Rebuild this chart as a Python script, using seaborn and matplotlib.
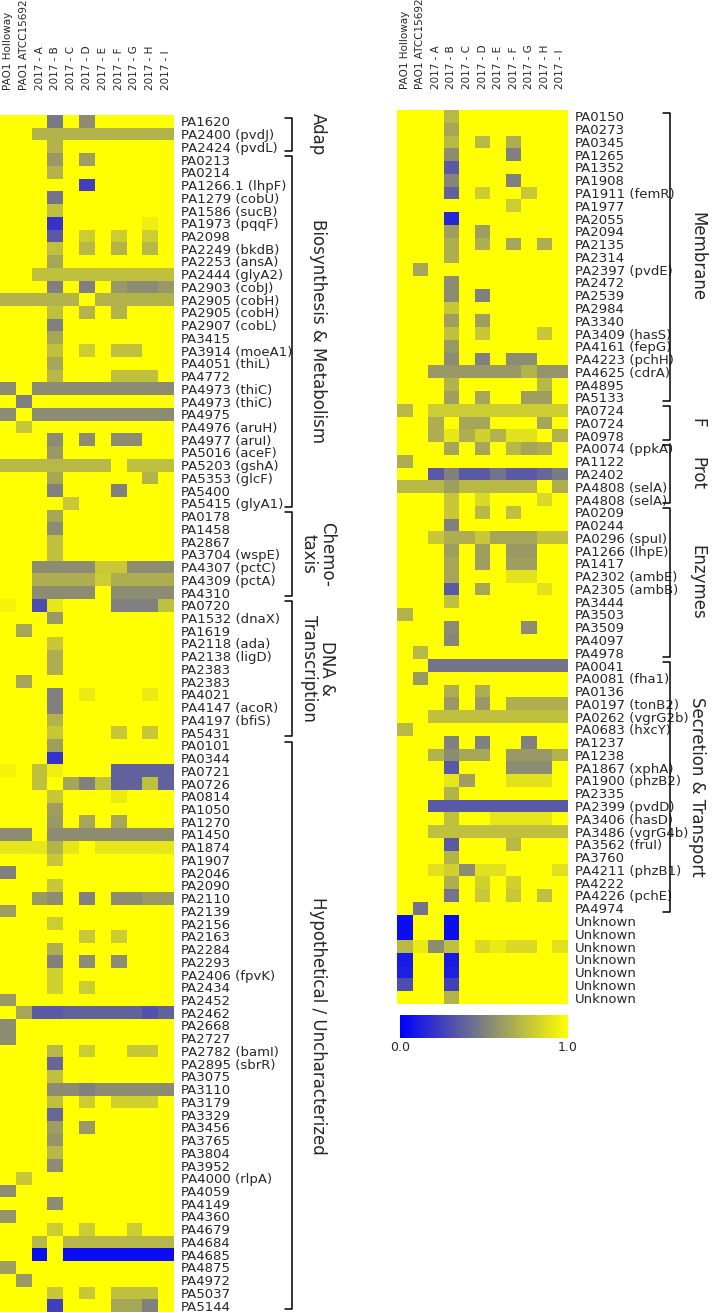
import matplotlib
matplotlib.use("Agg")
import matplotlib.pyplot as plt
import matplotlib.transforms as mtransforms
from matplotlib.colors import LinearSegmentedColormap
import seaborn as sns
import pandas as pd

# column (strain) labels shared by both panels
strains = ["PAO1 Holloway", "PAO1 ATCC15692", "2017 - A", "2017 - B", "2017 - C",
           "2017 - D", "2017 - E", "2017 - F", "2017 - G", "2017 - H", "2017 - I"]

# left panel
left_genes = [
    "PA1620", "PA2400 (pvdJ)", "PA2424 (pvdL)", "PA0213", "PA0214", "PA1266.1 (lhpF)",
    "PA1279 (cobU)", "PA1586 (sucB)", "PA1973 (pqqF)", "PA2098", "PA2249 (bkdB)",
    "PA2253 (ansA)", "PA2444 (glyA2)", "PA2903 (cobJ)", "PA2905 (cobH)", "PA2905 (cobH)",
    "PA2907 (cobL)", "PA3415", "PA3914 (moeA1)", "PA4051 (thiL)", "PA4772",
    "PA4973 (thiC)", "PA4973 (thiC)", "PA4975", "PA4976 (aruH)", "PA4977 (aruI)",
    "PA5016 (aceF)", "PA5203 (gshA)", "PA5353 (glcF)", "PA5400", "PA5415 (glyA1)",
    "PA0178", "PA1458", "PA2867", "PA3704 (wspE)", "PA4307 (pctC)", "PA4309 (pctA)",
    "PA4310", "PA0720", "PA1532 (dnaX)", "PA1619", "PA2118 (ada)", "PA2138 (ligD)",
    "PA2383", "PA2383", "PA4021", "PA4147 (acoR)", "PA4197 (bfiS)", "PA5431",
    "PA0101", "PA0344", "PA0721", "PA0726", "PA0814", "PA1050", "PA1270", "PA1450",
    "PA1874", "PA1907", "PA2046", "PA2090", "PA2110", "PA2139", "PA2156", "PA2163",
    "PA2284", "PA2293", "PA2406 (fpvK)", "PA2434", "PA2452", "PA2462", "PA2668",
    "PA2727", "PA2782 (bamI)", "PA2895 (sbrR)", "PA3075", "PA3110", "PA3179",
    "PA3329", "PA3456", "PA3765", "PA3804", "PA3952", "PA4000 (rlpA)", "PA4059",
    "PA4149", "PA4360", "PA4679", "PA4684", "PA4685", "PA4875", "PA4972", "PA5037",
    "PA5144",
]
left_values = [
    [1, 1, 1, .47, 1, .55, 1, 1, 1, 1, 1],
    [1, 1, .7, .7, .7, .7, .7, .7, .7, .7, .7],
    [1, 1, 1, .7, 1, 1, 1, 1, 1, 1, 1],
    [1, 1, 1, .6, 1, .62, 1, 1, 1, 1, 1],
    [1, 1, 1, .7, 1, 1, 1, 1, 1, 1, 1],
    [1, 1, 1, 1, 1, .25, 1, 1, 1, 1, 1],
    [1, 1, 1, .45, 1, 1, 1, 1, 1, 1, 1],
    [1, 1, 1, .75, 1, 1, 1, 1, 1, 1, 1],
    [1, 1, 1, .2, 1, 1, 1, 1, 1, .93, 1],
    [1, 1, 1, .35, 1, .8, 1, .8, 1, .8, 1],
    [1, 1, 1, .75, 1, .72, 1, .7, 1, .72, 1],
    [1, 1, 1, .65, 1, 1, 1, 1, 1, 1, 1],
    [1, 1, .75, .75, .75, .75, .75, .75, .75, .75, .75],
    [1, 1, 1, .5, 1, .5, 1, .6, .55, .55, .6],
    [.7, .7, .7, .7, .7, 1, .7, .7, .7, .7, .7],
    [1, 1, 1, .75, 1, .7, 1, .7, 1, 1, 1],
    [1, 1, 1, .5, 1, 1, 1, 1, 1, 1, 1],
    [1, 1, 1, .65, 1, 1, 1, 1, 1, 1, 1],
    [1, 1, 1, .75, 1, .8, 1, .75, .75, 1, 1],
    [1, 1, 1, .65, 1, 1, 1, 1, 1, 1, 1],
    [1, 1, 1, .72, 1, 1, 1, .75, .75, .75, 1],
    [.55, 1, .55, .55, .55, .55, .55, .55, .55, .55, .55],
    [1, .5, 1, 1, 1, 1, 1, 1, 1, 1, 1],
    [.55, 1, .55, .55, .55, .55, .55, .55, .55, .55, .55],
    [1, .78, 1, 1, 1, 1, 1, 1, 1, 1, 1],
    [1, 1, 1, .55, 1, .55, 1, .55, .55, 1, 1],
    [1, 1, 1, .6, 1, 1, 1, 1, 1, 1, 1],
    [.72, .72, .72, .72, .72, .72, .72, 1, .75, .75, .75],
    [1, 1, 1, .65, 1, 1, 1, 1, 1, .7, 1],
    [1, 1, 1, .5, 1, 1, 1, .5, 1, 1, 1],
    [1, 1, 1, 1, .78, 1, 1, 1, 1, 1, 1],
    [1, 1, 1, .65, 1, 1, 1, 1, 1, 1, 1],
    [1, 1, 1, .55, 1, 1, 1, 1, 1, 1, 1],
    [1, 1, 1, .75, 1, 1, 1, 1, 1, 1, 1],
    [1, 1, 1, .75, 1, 1, 1, 1, 1, 1, 1],
    [1, 1, .55, .55, .55, .55, .78, .78, .55, .55, .55],
    [1, 1, .68, .68, .68, .68, .8, .68, .68, .68, .68],
    [1, 1, .55, .55, .55, .55, 1, .55, .55, .55, .55],
    [.95, 1, .3, .9, 1, 1, 1, .5, .5, .5, .75],
    [1, 1, 1, .6, 1, 1, 1, 1, 1, 1, 1],
    [1, .65, 1, 1, 1, 1, 1, 1, 1, 1, 1],
    [1, 1, 1, .78, 1, 1, 1, 1, 1, 1, 1],
    [1, 1, 1, .68, 1, 1, 1, 1, 1, 1, 1],
    [1, 1, 1, .68, 1, 1, 1, 1, 1, 1, 1],
    [1, .65, 1, 1, 1, 1, 1, 1, 1, 1, 1],
    [1, 1, 1, .5, 1, .92, 1, 1, 1, .92, 1],
    [1, 1, 1, .5, 1, 1, 1, 1, 1, 1, 1],
    [1, 1, 1, .7, 1, 1, 1, 1, 1, 1, 1],
    [1, 1, 1, .78, 1, 1, 1, .78, 1, .78, 1],
    [1, 1, 1, .62, 1, 1, 1, 1, 1, 1, 1],
    [1, 1, 1, .2, 1, 1, 1, 1, 1, 1, 1],
    [.95, 1, .75, .93, 1, 1, 1, .38, .38, .38, .38],
    [1, 1, .75, 1, .65, .5, .75, .38, .38, .75, .38],
    [1, 1, 1, .78, 1, 1, 1, .92, 1, 1, 1],
    [1, 1, 1, .62, 1, 1, 1, 1, 1, 1, 1],
    [1, 1, 1, .6, 1, .65, 1, .65, 1, 1, 1],
    [.55, .55, 1, .55, .55, .55, .55, .55, .55, .55, .55],
    [.9, .9, .9, .7, .9, 1, .9, .9, .9, .9, .9],
    [1, 1, 1, .78, 1, 1, 1, 1, 1, 1, 1],
    [.5, 1, 1, 1, 1, 1, 1, 1, 1, 1, 1],
    [1, 1, 1, .78, 1, 1, 1, 1, 1, 1, 1],
    [1, 1, .6, .55, 1, .5, 1, .55, .55, .6, .6],
    [.62, 1, 1, 1, 1, 1, 1, 1, 1, 1, 1],
    [1, 1, 1, .8, 1, 1, 1, 1, 1, 1, 1],
    [1, 1, 1, 1, 1, .78, 1, .8, 1, 1, 1],
    [1, 1, 1, .68, 1, 1, 1, 1, 1, 1, 1],
    [1, 1, 1, .5, 1, .55, 1, .55, 1, 1, 1],
    [1, 1, 1, .82, 1, 1, 1, 1, 1, 1, 1],
    [1, 1, 1, .82, 1, .8, 1, 1, 1, 1, 1],
    [.6, 1, 1, 1, 1, 1, 1, 1, 1, 1, 1],
    [1, .65, .35, .35, .38, .38, .38, .38, .38, .32, .38],
    [.55, 1, 1, 1, 1, 1, 1, 1, 1, 1, 1],
    [.55, 1, 1, 1, 1, 1, 1, 1, 1, 1, 1],
    [1, 1, 1, .72, 1, .8, 1, 1, .78, .78, 1],
    [1, 1, 1, .4, 1, 1, 1, 1, 1, 1, 1],
    [1, 1, 1, .75, 1, 1, 1, 1, 1, 1, 1],
    [1, 1, 1, .55, .55, .5, .55, .55, .55, .55, .55],
    [1, 1, 1, .75, 1, .8, 1, .82, .82, .82, 1],
    [1, 1, 1, .4, 1, 1, 1, 1, 1, 1, 1],
    [1, 1, 1, .62, 1, .6, 1, 1, 1, 1, 1],
    [1, 1, 1, .58, 1, 1, 1, 1, 1, 1, 1],
    [1, 1, 1, .72, 1, 1, 1, 1, 1, 1, 1],
    [1, 1, 1, .55, 1, 1, 1, 1, 1, 1, 1],
    [1, .78, 1, 1, 1, 1, 1, 1, 1, 1, 1],
    [.55, 1, 1, 1, 1, 1, 1, 1, 1, 1, 1],
    [1, 1, 1, .55, 1, 1, 1, 1, 1, 1, 1],
    [.58, 1, 1, 1, 1, 1, 1, 1, 1, 1, 1],
    [1, 1, 1, .8, 1, .8, 1, 1, .8, 1, 1],
    [1, 1, .72, 1, .72, .72, .72, .72, .72, .72, .72],
    [1, 1, .05, 1, .05, .05, .05, .05, .05, .05, .05],
    [.62, 1, 1, 1, 1, 1, 1, 1, 1, 1, 1],
    [1, .6, 1, 1, 1, 1, 1, 1, 1, 1, 1],
    [1, 1, 1, .78, 1, .78, 1, .75, .75, .75, 1],
    [1, 1, 1, .25, 1, 1, 1, .65, .65, .5, 1],
]
# (label, first row, last row)
left_groups = [("Adap", 0, 2), ("Biosynthesis & Metabolism", 3, 30),
               ("Chemo-\ntaxis", 31, 37), ("DNA &\nTranscription", 38, 48),
               ("Hypothetical / Uncharacterized", 49, 93)]

# right panel
right_genes = [
    "PA0150", "PA0273", "PA0345", "PA1265", "PA1352", "PA1908", "PA1911 (femR)",
    "PA1977", "PA2055", "PA2094", "PA2135", "PA2314", "PA2397 (pvdE)", "PA2472",
    "PA2539", "PA2984", "PA3340", "PA3409 (hasS)", "PA4161 (fepG)", "PA4223 (pchH)",
    "PA4625 (cdrA)", "PA4895", "PA5133", "PA0724", "PA0724", "PA0978", "PA0074 (ppkA)",
    "PA1122", "PA2402", "PA4808 (selA)", "PA4808 (selA)", "PA0209", "PA0244",
    "PA0296 (spuI)", "PA1266 (lhpE)", "PA1417", "PA2302 (ambE)", "PA2305 (ambB)",
    "PA3444", "PA3503", "PA3509", "PA4097", "PA4978", "PA0041", "PA0081 (fha1)",
    "PA0136", "PA0197 (tonB2)", "PA0262 (vgrG2b)", "PA0683 (hxcY)", "PA1237", "PA1238",
    "PA1867 (xphA)", "PA1900 (phzB2)", "PA2335", "PA2399 (pvdD)", "PA3406 (hasD)",
    "PA3486 (vgrG4b)", "PA3562 (fruI)", "PA3760", "PA4211 (phzB1)", "PA4222",
    "PA4226 (pchE)", "PA4974", "Unknown", "Unknown", "Unknown", "Unknown", "Unknown",
    "Unknown", "Unknown",
]
right_values = [
    [1, 1, 1, .72, 1, 1, 1, 1, 1, 1, 1],
    [1, 1, 1, .65, 1, 1, 1, 1, 1, 1, 1],
    [1, 1, 1, .72, 1, .72, 1, .68, 1, 1, 1],
    [1, 1, 1, .55, 1, 1, 1, .5, 1, 1, 1],
    [1, 1, 1, .35, 1, 1, 1, 1, 1, 1, 1],
    [1, 1, 1, .52, 1, 1, 1, .5, 1, 1, 1],
    [1, 1, 1, .38, 1, .8, 1, 1, .78, 1, 1],
    [1, 1, 1, 1, 1, 1, 1, .8, 1, 1, 1],
    [1, 1, 1, .15, 1, 1, 1, 1, 1, 1, 1],
    [1, 1, 1, .62, 1, .62, 1, 1, 1, 1, 1],
    [1, 1, 1, .68, 1, .68, 1, .65, 1, .68, 1],
    [1, 1, 1, .68, 1, 1, 1, 1, 1, 1, 1],
    [1, .65, 1, 1, 1, 1, 1, 1, 1, 1, 1],
    [1, 1, 1, .55, 1, 1, 1, 1, 1, 1, 1],
    [1, 1, 1, .55, 1, .5, 1, 1, 1, 1, 1],
    [1, 1, 1, .78, 1, 1, 1, 1, 1, 1, 1],
    [1, 1, 1, .62, 1, .62, 1, 1, 1, 1, 1],
    [1, 1, 1, .75, 1, .78, 1, 1, 1, .78, 1],
    [1, 1, 1, .6, 1, 1, 1, 1, 1, 1, 1],
    [1, 1, 1, .55, 1, .5, 1, .55, .55, 1, 1],
    [1, 1, .6, .6, .6, .6, .6, .6, .7, .58, .58],
    [1, 1, 1, .7, 1, 1, 1, 1, 1, .72, 1],
    [1, 1, 1, .62, 1, .65, 1, 1, .62, .62, 1],
    [.72, 1, .8, .8, .8, .8, .8, .8, .8, .8, .8],
    [1, 1, .68, 1, .65, .65, 1, 1, 1, .65, 1],
    [1, 1, .68, .9, .68, .82, .7, .88, .88, 1, .7],
    [1, 1, 1, .65, 1, .65, 1, .72, .65, .68, 1],
    [.68, 1, 1, 1, 1, 1, 1, 1, 1, 1, 1],
    [1, 1, .35, .5, .35, .35, .45, .35, .35, .4, .48],
    [.72, .72, .72, .62, .72, .72, .72, .72, .72, 1, .68],
    [1, 1, 1, .78, 1, .85, 1, 1, 1, .85, 1],
    [1, 1, 1, .78, 1, .72, 1, .75, 1, 1, 1],
    [1, 1, 1, .5, 1, 1, 1, 1, 1, 1, 1],
    [1, 1, .78, .68, .68, .78, .65, .65, .65, .75, .75],
    [1, 1, 1, .62, 1, .62, 1, .6, .6, 1, 1],
    [1, 1, 1, .65, 1, .62, 1, .62, .62, 1, 1],
    [1, 1, 1, .65, 1, 1, 1, .88, .88, 1, 1],
    [1, 1, 1, .35, 1, .65, 1, 1, 1, .88, 1],
    [1, 1, 1, .75, 1, 1, 1, 1, 1, 1, 1],
    [.7, 1, 1, 1, 1, 1, 1, 1, 1, 1, 1],
    [1, 1, 1, .55, 1, 1, 1, 1, .55, 1, 1],
    [1, 1, 1, .52, 1, 1, 1, 1, 1, 1, 1],
    [1, .72, 1, 1, 1, 1, 1, 1, 1, 1, 1],
    [1, 1, .45, .45, .45, .45, .45, .45, .45, .45, .45],
    [1, .6, 1, 1, 1, 1, 1, 1, 1, 1, 1],
    [1, 1, 1, .68, 1, .68, 1, 1, 1, 1, 1],
    [1, 1, 1, .6, 1, .6, 1, .68, .68, .68, .68],
    [1, 1, .75, .75, .75, .75, .75, .75, .75, .75, .75],
    [.72, 1, 1, 1, 1, 1, 1, 1, 1, 1, 1],
    [1, 1, 1, .5, 1, .5, 1, 1, .5, 1, 1],
    [1, 1, .7, .55, .65, .65, 1, .6, .6, .6, .7],
    [1, 1, 1, .35, 1, 1, 1, .55, .55, .55, 1],
    [1, 1, 1, .9, .62, 1, 1, .88, .88, .88, 1],
    [1, 1, 1, .7, 1, 1, 1, 1, 1, 1, 1],
    [1, 1, .35, .35, .35, .35, .35, .35, .35, .35, .35],
    [1, 1, 1, .75, 1, 1, .9, .9, .9, .9, 1],
    [1, 1, .75, .75, .75, .75, .75, .75, .75, .75, .75],
    [1, 1, 1, .35, 1, 1, 1, .72, 1, 1, 1],
    [1, 1, 1, .7, 1, 1, 1, 1, 1, 1, 1],
    [1, 1, .88, .82, .55, .88, .88, 1, 1, 1, .88],
    [1, 1, 1, .68, 1, .82, 1, .82, 1, 1, 1],
    [1, 1, 1, .45, 1, .78, 1, .78, 1, .75, 1],
    [1, .45, 1, 1, 1, 1, 1, 1, 1, 1, 1],
    [.05, 1, 1, .05, 1, 1, 1, 1, 1, 1, 1],
    [.05, 1, 1, .05, 1, 1, 1, 1, 1, 1, 1],
    [.72, .92, .55, .75, 1, .85, .92, .85, .85, 1, .88],
    [.1, 1, 1, .1, 1, 1, 1, 1, 1, 1, 1],
    [.12, 1, 1, .12, 1, 1, 1, 1, 1, 1, 1],
    [.3, 1, 1, .25, 1, 1, 1, 1, 1, 1, 1],
    [1, 1, 1, .7, 1, 1, 1, 1, 1, 1, 1],
]
right_groups = [("Membrane", 0, 22), ("F", 23, 25), ("Prot", 26, 30),
                ("Enzymes", 31, 42), ("Secretion & Transport", 43, 62)]

W, H = 727, 1313
cmap = LinearSegmentedColormap.from_list("bgy", ["#0000ff", "#808080", "#ffff00"])

sns.set_style("white")
plt.rcParams["font.family"] = ["DejaVu Sans"]

fig = plt.figure(figsize=(W / 100, H / 100), dpi=100)


def px_axes(x0, y0, x1, y1):
    # pixel box (top-left origin) -> figure axes
    return fig.add_axes([x0 / W, 1 - y1 / H, (x1 - x0) / W, (y1 - y0) / H])


def draw_panel(ax, values, genes, label_pad):
    df = pd.DataFrame(values, index=genes, columns=strains)
    sns.heatmap(df, ax=ax, cmap=cmap, vmin=0, vmax=1, cbar=False,
                xticklabels=strains, yticklabels=genes)
    ax.xaxis.tick_top()
    ax.yaxis.tick_right()
    ax.set_xticklabels(strains, rotation=90, fontsize=7.5)
    ax.set_yticklabels(genes, rotation=0, fontsize=9.5)
    ax.tick_params(axis="x", length=0, pad=label_pad)
    ax.tick_params(axis="y", length=0, pad=5)
    ax.set_xlabel("")
    ax.set_ylabel("")


def draw_brackets(ax, groups, line_x, text_x):
    trans = mtransforms.blended_transform_factory(fig.transFigure, ax.transData)
    x = line_x / W
    tick = 7 / W
    for name, first, last in groups:
        y0 = first + 0.2
        y1 = last + 0.8
        ax.plot([x - tick, x, x, x - tick], [y0, y0, y1, y1], color="black",
                lw=1.1, transform=trans, clip_on=False)
        ax.text(text_x / W, (y0 + y1) / 2, name, transform=trans, rotation=270,
                ha="center", va="center", fontsize=12, linespacing=1.0,
                multialignment="center")


ax_left = px_axes(0, 115, 174, 1312)
draw_panel(ax_left, left_values, left_genes, 18)
draw_brackets(ax_left, left_groups, 292, 318)

ax_right = px_axes(397, 110, 568, 1004)
draw_panel(ax_right, right_values, right_genes, 15)
draw_brackets(ax_right, right_groups, 670, 697)

cax = px_axes(400, 1015, 568, 1038)
cb = fig.colorbar(ax_right.collections[0], cax=cax, orientation="horizontal")
cb.set_ticks([0, 1])
cb.set_ticklabels(["0.0", "1.0"])
cb.outline.set_visible(False)
cax.tick_params(length=0, labelsize=9, pad=2)

fig.savefig("out.png", dpi=100)
